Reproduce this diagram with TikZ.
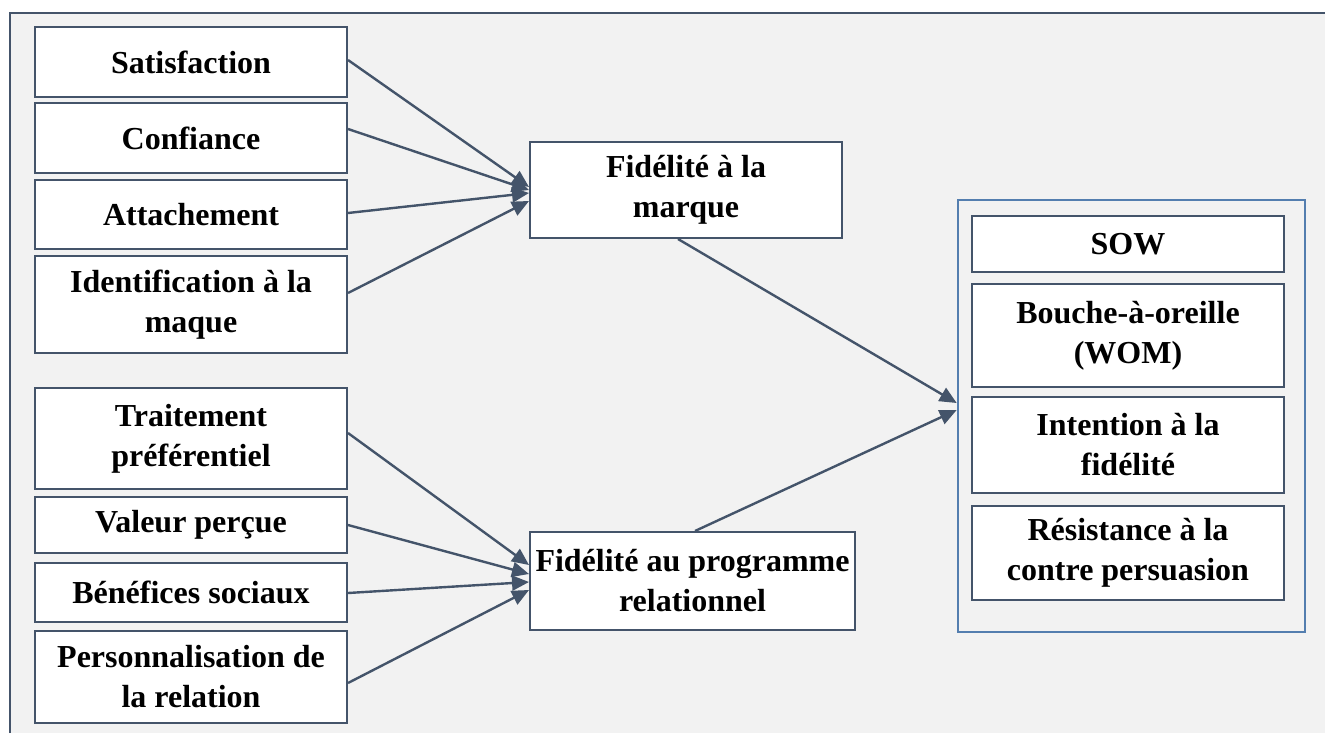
\documentclass[tikz,border=0pt]{standalone}
\usepackage{fontspec}
\setmainfont{Liberation Serif}
\usetikzlibrary{arrows.meta}
\definecolor{framegray}{RGB}{242,242,242}
\definecolor{slateline}{RGB}{68,84,106}
\definecolor{steelblue}{RGB}{84,126,175}

\tikzset{
  factor/.style={draw=slateline, line width=1pt, fill=white, align=center, inner sep=0pt,
    font=\fontsize{16}{20}\selectfont\bfseries},
  arr/.style={draw=slateline, line width=1.2pt, -{Triangle[length=8.5pt,width=7.5pt]}}
}

\begin{document}
\begin{tikzpicture}[x=0.5pt, y=-0.5pt]
  \useasboundingbox (0,0) rectangle (1325,733);
  % Frame
  \fill[framegray] (10,13) rectangle (1325,733);
  \draw[slateline, line width=1.3pt] (10,733) -- (10,13) -- (1325,13);
  % Brand loyalty antecedents
  \node[factor, minimum width=156pt, minimum height=35pt] (sat) at (191,62) {Satisfaction};
  \node[factor, minimum width=156pt, minimum height=35pt] (conf) at (191,138) {Confiance};
  \node[factor, minimum width=156pt, minimum height=34.5pt] (att) at (191,214.5) {Attachement};
  \node[factor, minimum width=156pt, minimum height=48.5pt] (ident) at (191,304.5) {Identification à la\\maque};
  % Program loyalty antecedents
  \node[factor, minimum width=156pt, minimum height=50.5pt] (trait) at (191,438.5) {Traitement\\préférentiel};
  \node[factor, minimum width=156pt, minimum height=28pt] (val) at (191,525) {Valeur perçue};
  \node[factor, minimum width=156pt, minimum height=29.5pt] (bene) at (191,592.5) {Bénéfices sociaux};
  \node[factor, minimum width=156pt, minimum height=46pt] (perso) at (191,677) {Personnalisation de\\la relation};
  % Loyalty
  \node[factor, minimum width=156pt, minimum height=48pt] (fm) at (686,190) {Fidélité à la\\marque};
  \node[factor, minimum width=162.5pt, minimum height=49pt] (fp) at (692.5,581) {Fidélité au programme\\relationnel};
  % Outcomes
  \node[draw=steelblue, line width=1.3pt, minimum width=173.5pt, minimum height=216pt, inner sep=0pt] (out) at (1131.5,416) {};
  \node[factor, minimum width=156pt, minimum height=28pt] (sow) at (1128,244) {SOW};
  \node[factor, minimum width=156pt, minimum height=51.5pt] (wom) at (1128,335.5) {Bouche-à-oreille\\(WOM)};
  \node[factor, minimum width=156pt, minimum height=48pt] (intent) at (1128,445) {Intention à la\\fidélité};
  \node[factor, minimum width=156pt, minimum height=47pt] (resist) at (1128,553) {Résistance à la\\contre persuasion};
  % Arrows
  \foreach \src/\sy/\ey in {sat/60/187, conf/129/190, att/213/193, ident/293/201}
    \draw[arr] (\src.east |- 0,\sy) -- (fm.west |- 0,\ey);
  \foreach \src/\sy/\ey in {trait/433/565, val/525/574, bene/593/582, perso/683/590}
    \draw[arr] (\src.east |- 0,\sy) -- (fp.west |- 0,\ey);
  \draw[arr] (fm.south -| 678,0) -- (out.west |- 0,403);
  \draw[arr] (fp.north -| 695,0) -- (out.west |- 0,410);
\end{tikzpicture}
\end{document}
